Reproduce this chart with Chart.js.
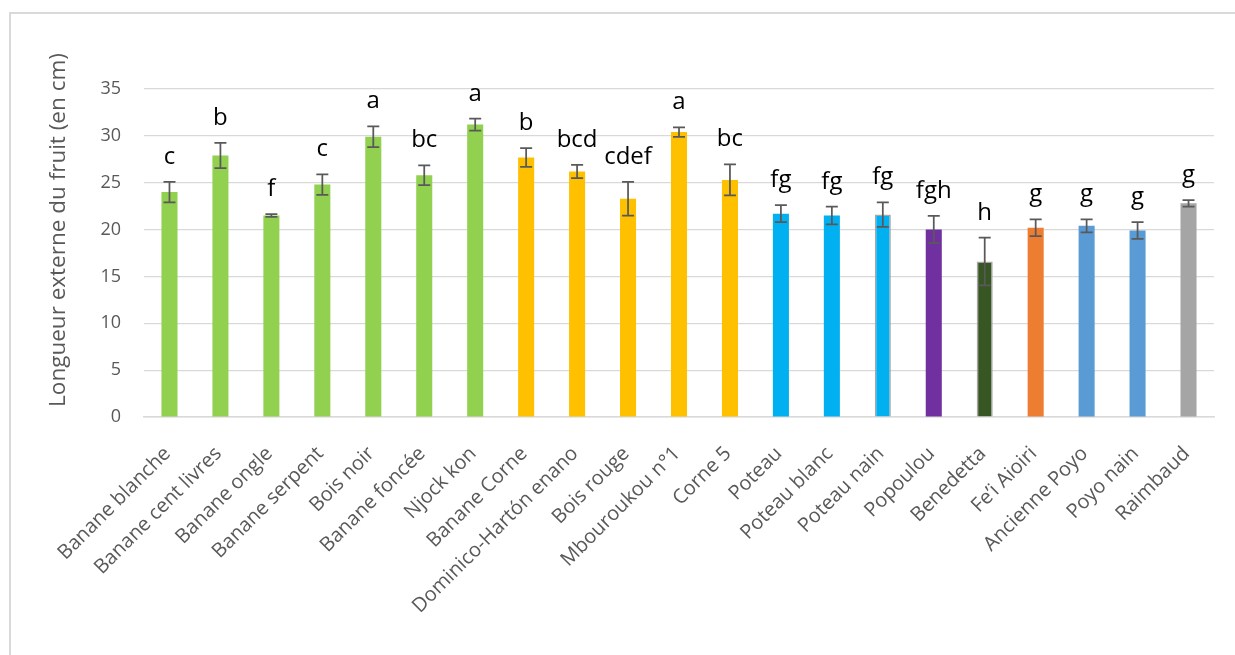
<!DOCTYPE html>
<html>
<head>
<meta charset="utf-8">
<script src="https://cdn.jsdelivr.net/npm/chart.js@4.4.0/dist/chart.umd.min.js"></script>
<style>
  html, body { margin: 0; padding: 0; background: #fff; overflow: hidden; }
  #wrap { position: relative; width: 1235px; height: 655px; }
  #frame { position: absolute; left: 9px; top: 12px; width: 1400px; height: 800px; border: 2px solid #d9d9d9; }
  canvas { position: absolute; left: 0; top: 0; }
</style>
</head>
<body>
<div id="wrap">
  <div id="frame"></div>
  <canvas id="chart" width="1235" height="655"></canvas>
</div>
<script>
// varieties and measured fruit length (cm), with std error and group letters
const varieties = [
  'Banane blanche', 'Banane cent livres', 'Banane ongle', 'Banane serpent', 'Bois noir',
  'Banane foncée', 'Njock kon', 'Banane Corne', 'Dominico-Hartón enano', 'Bois rouge',
  'Mbouroukou n°1', 'Corne 5', 'Poteau', 'Poteau blanc', 'Poteau nain', 'Popoulou',
  'Benedetta', 'Fe’i Aioiri', 'Ancienne Poyo', 'Poyo nain', 'Raimbaud'
];
const lengths = [24.0, 27.9, 21.5, 24.8, 29.9, 25.8, 31.2, 27.7, 26.2, 23.3, 30.4,
                 25.3, 21.7, 21.5, 21.6, 20.0, 16.6, 20.2, 20.4, 19.9, 22.8];
const errors = [1.1, 1.35, 0.15, 1.1, 1.1, 1.05, 0.65, 1.0, 0.7, 1.8, 0.5,
                1.65, 0.9, 0.95, 1.3, 1.45, 2.55, 0.9, 0.7, 0.9, 0.35];
const groups = ['c', 'b', 'f', 'c', 'a', 'bc', 'a', 'b', 'bcd', 'cdef', 'a',
                'bc', 'fg', 'fg', 'fg', 'fgh', 'h', 'g', 'g', 'g', 'g'];
const yTicks = [0, 5, 10, 15, 20, 25, 30, 35];

const GREEN = '#92D050', YELLOW = '#FFC000', CYAN = '#00B0F0', PURPLE = '#7030A0',
      DKGREEN = '#375623', ORANGE = '#ED7D31', BLUE = '#5B9BD5', GREY = '#A5A5A5';
const barColors = [GREEN, GREEN, GREEN, GREEN, GREEN, GREEN, GREEN,
  YELLOW, YELLOW, YELLOW, YELLOW, YELLOW, CYAN, CYAN, CYAN, PURPLE, DKGREEN, ORANGE, BLUE, BLUE, GREY];

const errorBars = {
  id: 'errorBars',
  afterDatasetsDraw(chart) {
    const ctx = chart.ctx;
    const y = chart.scales.y;
    const meta = chart.getDatasetMeta(0);
    ctx.save();
    meta.data.forEach((bar, i) => {
      const top = y.getPixelForValue(lengths[i] + errors[i]);
      const bot = y.getPixelForValue(lengths[i] - errors[i]);
      ctx.strokeStyle = '#595959';
      ctx.lineWidth = 1.75;
      ctx.beginPath();
      ctx.moveTo(bar.x, top); ctx.lineTo(bar.x, bot);
      ctx.moveTo(bar.x - 6, top); ctx.lineTo(bar.x + 6, top);
      ctx.moveTo(bar.x - 6, bot); ctx.lineTo(bar.x + 6, bot);
      ctx.stroke();

      ctx.fillStyle = '#000';
      ctx.font = '24px "Open Sans"';
      ctx.textAlign = 'center';
      ctx.textBaseline = 'alphabetic';
      ctx.fillText(groups[i], bar.x, top - 18);
    });
    ctx.restore();
  }
};

// y title drawn by hand, Excel puts it a bit above the plot centre
const yTitle = {
  id: 'yTitle',
  afterDraw(chart) {
    const ctx = chart.ctx;
    ctx.save();
    ctx.translate(59, 230);
    ctx.rotate(-Math.PI / 2);
    ctx.fillStyle = '#595959';
    ctx.font = '22.5px "Open Sans"';
    ctx.textAlign = 'center';
    ctx.textBaseline = 'middle';
    ctx.fillText('Longueur externe du fruit (en cm)', 0, 0);
    ctx.restore();
  }
};

new Chart(document.getElementById('chart'), {
  type: 'bar',
  data: {
    labels: varieties,
    datasets: [{
      data: lengths,
      backgroundColor: barColors,
      borderColor: '#A6A6A6',
      borderWidth: varieties.map(v => (v === 'Poteau nain' || v === 'Benedetta') ? 1.5 : 0),
      barPercentage: 0.315,
      categoryPercentage: 1
    }]
  },
  options: {
    responsive: false,
    animation: false,
    devicePixelRatio: 1,
    layout: { padding: { top: 89, right: 21, left: 0, bottom: 0 } },
    plugins: {
      legend: { display: false },
      tooltip: { enabled: false }
    },
    scales: {
      x: {
        grid: { display: false },
        border: { color: '#d9d9d9', width: 1.5 },
        ticks: {
          color: '#595959',
          font: { family: 'Open Sans', size: 20 },
          minRotation: 45,
          maxRotation: 45,
          autoSkip: false,
          padding: 17,
          labelOffset: -2
        },
        afterFit(scale) { scale.height = 238; }
      },
      y: {
        min: 0,
        max: 35,
        afterBuildTicks(scale) { scale.ticks = yTicks.map(v => ({ value: v })); },
        grid: { color: '#d9d9d9', lineWidth: 1.2, drawTicks: false },
        border: { display: false },
        ticks: {
          color: '#595959',
          font: { family: 'Open Sans', size: 18 },
          padding: 23
        },
        afterFit(scale) { scale.width = 144; }
      }
    }
  },
  plugins: [errorBars, yTitle]
});
</script>
</body>
</html>
